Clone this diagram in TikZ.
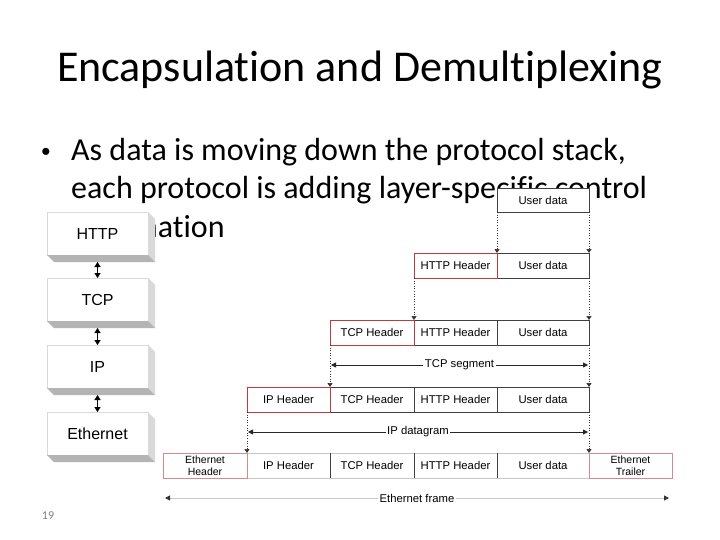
\documentclass[tikz,border=0pt]{standalone}
\usepackage{fontspec}
\setmainfont{Carlito}[Ligatures=NoCommon]
\newfontfamily\arialf{Liberation Sans}
\usetikzlibrary{arrows.meta}
\definecolor{hdred}{HTML}{C0393B}
\definecolor{ethred}{HTML}{D58A8C}
\definecolor{sideface}{HTML}{D9D9D9}
\definecolor{botface}{HTML}{B4B4B4}
\begin{document}
\begin{tikzpicture}[x=1pt,y=-1pt,
  layer/.style={anchor=north west, minimum width=101pt, minimum height=43pt, inner sep=0pt, outer sep=0pt,
    fill=white, draw=gray!30, line width=0.6pt, font=\arialf\fontsize{16}{18}\selectfont},
  pk/.style={anchor=north west, minimum height=25pt, inner sep=0pt, outer sep=0pt, fill=white,
    draw=black!75, line width=0.8pt, font=\arialf\fontsize{11.3}{13}\selectfont},
  pklight/.style={pk, draw=gray!45},
  hdr/.style={pk, draw=hdred},
  ethhdr/.style={pk, draw=ethred, align=center, font=\arialf\fontsize{10.5}{12.5}\selectfont},
  dotconn/.style={draw=black!80, line width=0.7pt, dash pattern=on 0.8pt off 1.8pt, -{Triangle[width=5pt,length=4pt]}},
  spanarr/.style={draw=black!85, line width=0.8pt, {Triangle[width=5pt,length=5pt]}-{Triangle[width=5pt,length=5pt]}},
  spanlight/.style={draw=gray!40, line width=1pt, {Triangle[width=5pt,length=5pt,color=black!80]}-{Triangle[width=5pt,length=5pt,color=black!80]}},
  spanlbl/.style={fill=white, inner sep=1.5pt, font=\arialf\fontsize{11.3}{13}\selectfont},
  dbl/.style={line width=1.3pt, {Triangle[width=6pt,length=5pt]}-{Triangle[width=6pt,length=5pt]}},
  bodytext/.style={anchor=base west, inner sep=0pt, font=\fontsize{32}{38}\selectfont}
]
\useasboundingbox (0,0) rectangle (720,540);
\fill[white] (0,0) rectangle (720,540);

% title and text
\node[anchor=base, inner sep=0pt, font=\fontsize{44}{53}\selectfont] (title) at (360,82) {Encapsulation and Demultiplexing};
\node[anchor=base, inner sep=0pt, font=\arialf\fontsize{26}{30}\selectfont] (bul) at (46,161) {•};
\node[bodytext] (l1) at (71,161) {As data is moving down the protocol stack,};
\node[bodytext] (l2) at (71,199) {each protocol is adding layer-specific control};
\node[bodytext] (l3) at (71,237) {information};
\node[anchor=base, inner sep=0pt, text=gray, font=\fontsize{12}{14}\selectfont] (pg) at (48,519) {19};

% protocol stack
\newcommand\layerbox[3]{%
  \node[layer] (#1) at (47,#2) {#3};
  \fill[sideface] (#1.north east) -- ++(7,7) -- ++(0,43) -- (#1.south east) -- cycle;
  \fill[botface] (#1.south west) -- (#1.south east) -- ++(7,7) -- ([xshift=7pt,yshift=-7pt]#1.south west) -- cycle;
}
\layerbox{http}{212}{HTTP}
\layerbox{tcp}{278}{TCP}
\layerbox{ip}{345}{IP}
\layerbox{eth}{412}{Ethernet}
\draw[dbl] ([yshift=-7pt]http.south) -- (tcp.north);
\draw[dbl] ([yshift=-7pt]tcp.south) -- (ip.north);
\draw[dbl] ([yshift=-7pt]ip.south) -- (eth.north);

% encapsulation rows
\node[pk, minimum width=92pt, minimum height=24pt] (u0) at (497,188) {User data};

\node[pk, minimum width=92pt] (u1) at (497,253) {User data};
\node[hdr, minimum width=83pt] (h1) at (414,253) {HTTP Header};

\node[pk, minimum width=92pt] (u2) at (497,320) {User data};
\node[pk, minimum width=83pt] (h2) at (414,320) {HTTP Header};
\node[hdr, minimum width=84pt] (t2) at (330,320) {TCP Header};

\node[pk, minimum width=92pt] (u3) at (497,387) {User data};
\node[pk, minimum width=83pt] (h3) at (414,387) {HTTP Header};
\node[pk, minimum width=84pt] (t3) at (330,387) {TCP Header};
\node[hdr, minimum width=83pt] (i3) at (247,387) {IP Header};

\node[pklight, minimum width=92pt] (u4) at (497,453) {User data};
\node[pklight, minimum width=83pt] (h4) at (414,453) {HTTP Header};
\node[pklight, minimum width=84pt] (t4) at (330,453) {TCP Header};
\node[pklight, minimum width=83pt] (i4) at (247,453) {IP Header};
\draw[black!75, line width=0.8pt] (i4.north east) -- (i4.south east);
\draw[black!75, line width=0.8pt] (t4.north east) -- (t4.south east);
\draw[black!75, line width=0.8pt] (h4.north east) -- (h4.south east);
\node[ethhdr, minimum width=84pt] (e4) at (163,453) {Ethernet\\Header};
\node[ethhdr, minimum width=83pt] (tr4) at (589,453) {Ethernet\\Trailer};

% dotted drop lines
\draw[dotconn] (u0.south west) -- (u1.north west);
\draw[dotconn] (u0.south east) -- (u1.north east);
\draw[dotconn] (h1.south west) -- (h2.north west);
\draw[dotconn] (u1.south east) -- (u2.north east);
\draw[dotconn] (t2.south west) -- (t3.north west);
\draw[dotconn] (u2.south east) -- (u3.north east);
\draw[dotconn] (i3.south west) -- (i4.north west);
\draw[dotconn] (u3.south east) -- (u4.north east);

% span arrows
\coordinate (segL) at (331,365);
\coordinate (segR) at (588,365);
\draw[spanarr] (segL) -- node[spanlbl] (seglbl) {TCP segment} (segR);
\coordinate (dgL) at (248,432);
\coordinate (dgR) at (588,432);
\draw[spanarr] (dgL) -- node[spanlbl] (dglbl) {IP datagram} (dgR);
\coordinate (frL) at (165,498);
\coordinate (frR) at (669,498);
\draw[spanlight] (frL) -- node[spanlbl] (frlbl) {Ethernet frame} (frR);
\end{tikzpicture}
\end{document}
